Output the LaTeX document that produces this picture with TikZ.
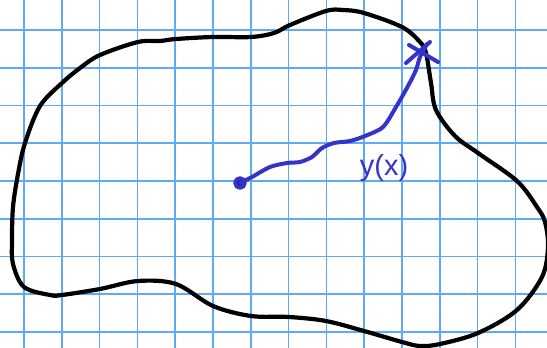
\documentclass[tikz,border=0pt]{standalone}
\usepackage{fontspec}
\newfontfamily\handfont{Liberation Sans}
\begin{document}
\begin{tikzpicture}[x=1pt, y=-1pt]
\tikzset{
    gridline/.style={draw={rgb,255:red,95;green,170;blue,245}, line width=1.6pt},
    region/.style={draw=black, line width=4.2pt, line join=round},
    pathline/.style={draw={rgb,255:red,52;green,52;blue,200}, line width=4pt, line cap=round, line join=round},
    pathlabel/.style={text={rgb,255:red,52;green,52;blue,200}, font=\handfont\fontsize{29}{29}\selectfont, inner sep=0pt}
}
\useasboundingbox (0,0) rectangle (547,348);
\clip (0,0) rectangle (547,348);
\fill[white] (0,0) rectangle (547,348);

% grid paper
\foreach \i in {0,...,13}
    \draw[gridline] (24+37.8*\i,0) -- (24+37.8*\i,348);
\foreach \j in {0,...,8}
    \draw[gridline] (0,30+37.75*\j) -- (547,30+37.75*\j);

% the region
\draw[region] plot[smooth cycle, tension=0.55] coordinates {
    (18,174) (25,143) (40,106) (62,83) (80,68) (100,55) (138,42) (160,41)
    (176,39) (213,37) (251,37) (274,33) (290,25) (326,11) (343,10) (364,13)
    (402,27) (420,42) (426,53) (431,83) (436,110) (455,136) (478,153)
    (517,181) (537,207) (545,222) (548,247) (542,277) (517,310) (478,333) (440,344)
    (420,346) (402,342) (364,331) (326,321) (289,317) (251,316) (213,306) (176,284)
    (138,281) (100,289) (62,295) (50,295) (24,287) (13,264) (12,241) (13,207)
};

% path from the point to the boundary
\coordinate (start) at (240,183);
\coordinate (hit) at (427,44);
\fill[pathline] (start) circle (4.8pt);
\draw[pathline] plot[smooth, tension=0.5] coordinates {
    (240,183) (252,177) (270,167) (287,163) (300,162) (312,157) (322,148)
    (334,143) (350,141) (365,136) (383,127) (396,107) (408,86) (416,70) (420,57) (427,44)
};
\draw[pathline] (409,45) -- (438,62);
\draw[pathline] (406,63) -- (430,42);

\node[pathlabel] (ylabel) at (384,168) {y(x)};
\end{tikzpicture}
\end{document}
